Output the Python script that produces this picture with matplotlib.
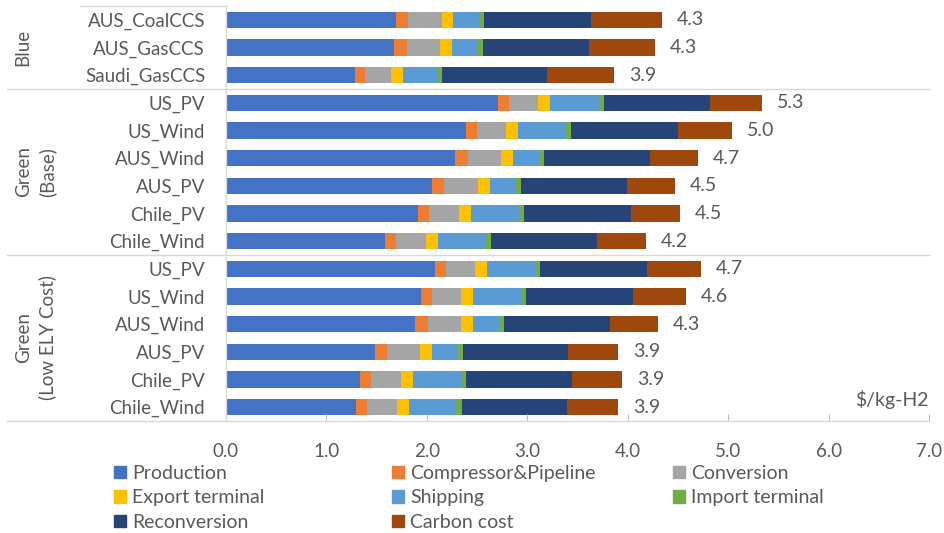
import matplotlib.pyplot as plt
import matplotlib.transforms as mtransforms
from matplotlib.patches import Patch
from matplotlib.lines import Line2D

plt.rcParams['font.family'] = ['Lato', 'DejaVu Sans']

# cost breakdown per supply route, $/kg-H2
routes = ['AUS_CoalCCS', 'AUS_GasCCS', 'Saudi_GasCCS',
          'US_PV', 'US_Wind', 'AUS_Wind', 'AUS_PV', 'Chile_PV', 'Chile_Wind',
          'US_PV', 'US_Wind', 'AUS_Wind', 'AUS_PV', 'Chile_PV', 'Chile_Wind']
groups = ['Blue', 'Green\n(Base)', 'Green\n(Low ELY Cost)']
group_sizes = [3, 6, 6]

production = [1.69, 1.67, 1.28, 2.71, 2.39, 2.28, 2.05, 1.91, 1.58, 2.08, 1.94, 1.88, 1.48, 1.33, 1.29]
compressor = [0.12, 0.13, 0.10, 0.11, 0.11, 0.13, 0.12, 0.11, 0.11, 0.11, 0.11, 0.13, 0.12, 0.11, 0.11]
conversion = [0.34, 0.33, 0.26, 0.29, 0.29, 0.33, 0.34, 0.30, 0.30, 0.29, 0.29, 0.33, 0.33, 0.30, 0.30]
export_term = [0.11, 0.12, 0.12, 0.12, 0.12, 0.12, 0.12, 0.12, 0.12, 0.12, 0.12, 0.12, 0.12, 0.12, 0.12]
shipping = [0.26, 0.26, 0.34, 0.48, 0.48, 0.26, 0.26, 0.48, 0.47, 0.48, 0.48, 0.26, 0.26, 0.48, 0.47]
import_term = [0.05, 0.05, 0.05, 0.05, 0.05, 0.05, 0.05, 0.05, 0.06, 0.05, 0.05, 0.05, 0.05, 0.05, 0.06]
reconversion = [1.06, 1.05, 1.05, 1.06, 1.06, 1.05, 1.05, 1.06, 1.05, 1.06, 1.06, 1.05, 1.05, 1.06, 1.05]
carbon = [0.71, 0.66, 0.66, 0.52, 0.54, 0.48, 0.48, 0.49, 0.49, 0.54, 0.53, 0.48, 0.49, 0.49, 0.50]

series = [
    ('Production', production, '#4472C4'),
    ('Compressor&Pipeline', compressor, '#ED7D31'),
    ('Conversion', conversion, '#A5A5A5'),
    ('Export terminal', export_term, '#FFC000'),
    ('Shipping', shipping, '#5B9BD5'),
    ('Import terminal', import_term, '#70AD47'),
    ('Reconversion', reconversion, '#264478'),
    ('Carbon cost', carbon, '#9E480E'),
]

text_col = '#595959'
line_col = '#D9D9D9'

W, H = 944, 533
fig = plt.figure(figsize=(W / 100, H / 100), dpi=100)
ax = fig.add_axes([226 / W, 1 - 421 / H, (929 - 226) / W, (421 - 6) / H])

ypos = list(range(len(routes)))
left = [0.0] * len(routes)
for name, vals, col in series:
    ax.barh(ypos, vals, left=left, height=0.58, color=col, label=name)
    left = [a + b for a, b in zip(left, vals)]

for y, total in zip(ypos, left):
    ax.annotate(f'{total:.1f}', (total, y), xytext=(15, 0), textcoords='offset pixels',
                ha='left', va='center', fontsize=14, color=text_col)

ax.set_ylim(len(routes) - 0.5, -0.5)
ax.set_xlim(0, 7)
ax.set_xticks(range(8))
ax.set_xticklabels([f'{v:.1f}' for v in range(8)], fontsize=13.5, color=text_col)
ax.set_yticks(ypos)
ax.set_yticklabels(routes, fontsize=13.5, color=text_col)
ax.tick_params(axis='y', length=0, pad=15)
ax.tick_params(axis='x', direction='in', length=5, color='#BFBFBF', pad=16)
for s in ['top', 'right']:
    ax.spines[s].set_visible(False)
for s in ['left', 'bottom']:
    ax.spines[s].set_color(line_col)
    ax.spines[s].set_linewidth(1)

# group separators running through the label column and plot
trans = mtransforms.blended_transform_factory(fig.transFigure, ax.transData)
start = 0
for name, n in zip(groups, group_sizes):
    end = start + n
    if end < len(routes):
        fig.add_artist(Line2D([7 / W, 929 / W], [end - 0.5, end - 0.5], transform=trans,
                              color=line_col, lw=1))
    xc = 23 / W if '\n' not in name else 35.5 / W
    ax.text(xc, (start + end - 1) / 2, name, transform=trans, rotation=90,
            ha='center', va='center', multialignment='center', linespacing=1.4,
            fontsize=13.5, color=text_col)
    start = end
fig.add_artist(Line2D([7 / W, 226 / W], [len(routes) - 0.5] * 2, transform=trans,
                      color=line_col, lw=1))
fig.add_artist(Line2D([80 / W, 226 / W], [-0.5, -0.5], transform=trans,
                      color=line_col, lw=1))

ax.text(1.0, 0.03, '$/kg-H2', transform=ax.transAxes, ha='right', va='bottom',
        fontsize=14, color=text_col)

# legend laid out in three evenly spaced columns
handles = [Patch(color=col, label=name) for name, _, col in series]
columns = [handles[0::3], handles[1::3], handles[2::3]]
for x_px, hs in zip([114, 392, 673], columns):
    leg = fig.legend(handles=hs, loc='upper left', bbox_to_anchor=(x_px / W, 1 - 465 / H),
                     frameon=False, fontsize=14, handlelength=0.6, handleheight=0.6,
                     handletextpad=0.35, labelspacing=0.38, borderpad=0, borderaxespad=0)
    for t in leg.get_texts():
        t.set_color(text_col)

fig.savefig('out.png', dpi=100)
